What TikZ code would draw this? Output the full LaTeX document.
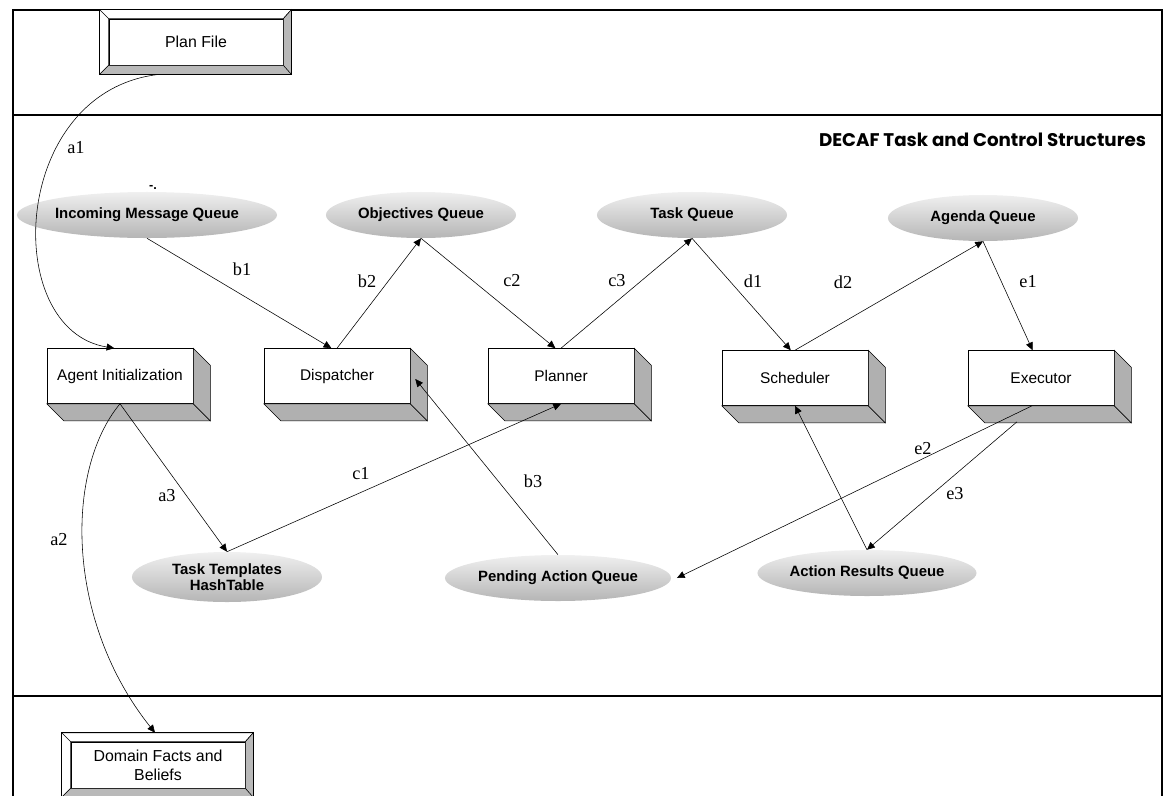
\documentclass[tikz,border=0pt]{standalone}
\usepackage{fontspec}
\setmainfont{Liberation Serif}
\setsansfont{Liberation Sans}
\newfontfamily\titlefont{Poppins}
\usetikzlibrary{shapes,arrows.meta}
\tikzset{
  >={Triangle[length=5.5pt,width=5pt]},
  boxface/.style={draw, fill=white, minimum width=3.65cm, minimum height=1.375cm, inner sep=0pt, font=\sffamily\fontsize{11}{13}\selectfont},
  sideface/.style={draw, fill=gray!62},
  fileface/.style={draw, fill=white, minimum width=4.35cm, minimum height=1.15cm, inner sep=0pt, align=center, font=\sffamily\fontsize{11.3}{13.5}\selectfont},
  queue/.style={ellipse, top color=gray!12, bottom color=gray!58, minimum width=4.75cm, minimum height=1.15cm, inner sep=0pt, align=center, font=\sffamily\bfseries\fontsize{10.6}{11.8}\selectfont},
  edgelabel/.style={font=\fontsize{13}{13}\selectfont},
  frameline/.style={line width=0.8pt}
}
\newcommand{\procbox}[3] {\node at (#1) (#2) [boxface] {#3};
  \draw [sideface] (#2.south west) -- (#2.south east) -- ([shift={(17,17)}]#2.south east) -- ([shift={(17,17)}]#2.south west) -- cycle;
  \draw [sideface] (#2.north east) -- ([shift={(17,17)}]#2.north east) -- ([shift={(17,17)}]#2.south east) -- (#2.south east) -- cycle;}
\newcommand{\filebox}[3] {\node at (#1) (#2) [fileface] {#3};
  \coordinate (#2-nw) at ([shift={(-9,-9)}]#2.north west);
  \coordinate (#2-ne) at ([shift={(8,-9)}]#2.north east);
  \coordinate (#2-se) at ([shift={(8,9)}]#2.south east);
  \coordinate (#2-sw) at ([shift={(-9,9)}]#2.south west);
  \draw [fill=white] (#2-nw) -- (#2-ne) -- (#2.north east) -- (#2.north west) -- (#2.south west) -- (#2-sw) -- cycle;
  \draw [fill=gray!55] (#2-ne) -- (#2-se) -- (#2-sw) -- (#2.south west) -- (#2.south east) -- (#2.north east) -- cycle;
  \draw (#2-nw) -- (#2.north west) (#2-se) -- (#2.south east);
  \draw [frameline] (#2-nw) rectangle (#2-se);}
\newcommand{\queuenode}[3] {\node at (#1) (#2) [queue] {#3};}
\newcommand{\qtransition}[4] {\draw [->] (#1) -- (#2) node [edgelabel] at (#4) {#3};}

\begin{document}
\begin{tikzpicture}[x=0.025cm, y=-0.025cm]
\useasboundingbox (0,0) rectangle (1165,796);

% frames
\draw [frameline] (13,800) -- (13,10) -- (1162,10) -- (1162,800);
\draw [frameline] (13,115) -- (1162,115);
\draw [frameline] (13,696) -- (1162,696);
\node [anchor=east, font=\titlefont\bfseries\fontsize{13}{15}\selectfont] (title) at (1151,140) {DECAF Task and Control Structures};

% queues
\queuenode {147,215} {inq} {Incoming Message Queue};
\queuenode {421,215} {objq} {Objectives Queue};
\queuenode {692,215} {taskq} {Task Queue};
\queuenode {983,218} {agq} {Agenda Queue};
\node at (227,577) (tt) [queue, minimum height=1.25cm] {Task Templates\\HashTable};
\queuenode {558,578} {pend} {Pending Action Queue};
\queuenode {867,573} {arq} {Action Results Queue};
\node at (153,187) (tick) [font=\sffamily\bfseries\small] {-.};

% processes
\procbox {120,376} {agent} {Agent Initialization};
\procbox {337,376} {disp} {Dispatcher};
\procbox {561,376} {plnr} {Planner};
\procbox {795,378} {sched} {Scheduler};
\procbox {1041,378} {exec} {Executor};

% files
\filebox {196,42} {plan} {Plan File};
\filebox {158,765} {dom} {Domain Facts and\\Beliefs};

% transitions
\draw [->] ([shift={(-36,9)}]plan.south) .. controls (10,90) and (0,330) .. ([xshift=-4]agent.north) node [edgelabel] at (76,148) {a1};
\draw [->] (agent.south) .. controls (65,470) and (65,620) .. ([shift={(-3,-9)}]dom.north) node [edgelabel] at (59,540) {a2};
\qtransition{agent.south}{tt.north}{a3}{167,496};
\qtransition{inq.south}{[xshift=-4]disp.north}{b1}{242,269};
\qtransition{disp.north}{objq.south}{b2}{367,281};
\qtransition{pend.north}{[shift={(5,3)}]disp.east}{b3}{533,481};
\qtransition{tt.north}{plnr.south}{c1}{361,474};
\qtransition{objq.south}{[xshift=-4]plnr.north}{c2}{512,281};
\qtransition{plnr.north}{taskq.south}{c3}{617,281};
\qtransition{taskq.south}{[xshift=-3]sched.north}{d1}{753,281};
\qtransition{sched.north}{agq.south}{d2}{843,282};
\qtransition{agq.south}{[xshift=-6]exec.north}{e1}{1028,282};
\qtransition{[shift={(-9,0)}]exec.south}{[xshift=4]pend.east}{e2}{923,449};
\qtransition{[shift={(-24,16)}]exec.south}{arq.north}{e3}{955,494};
\draw [->] (arq.north) -- (sched.south);

\end{tikzpicture}
\end{document}
